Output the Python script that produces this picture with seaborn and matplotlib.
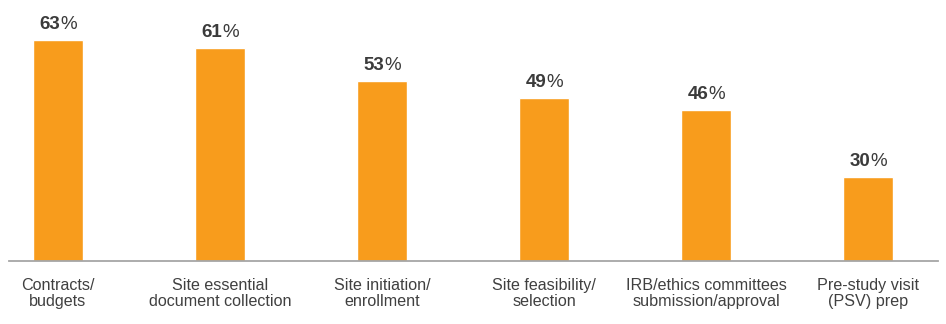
import matplotlib
matplotlib.use("Agg")
import matplotlib.pyplot as plt
import seaborn as sns
import pandas as pd
from matplotlib.offsetbox import TextArea, HPacker, AnnotationBbox

categories = [
    "Contracts/\nbudgets",
    "Site essential\ndocument collection",
    "Site initiation/\nenrollment",
    "Site feasibility/\nselection",
    "IRB/ethics committees\nsubmission/approval",
    "Pre-study visit\n(PSV) prep",
]
values = [63, 61, 53, 49, 46, 30]

sns.set_theme(style="white")
plt.rcParams["font.family"] = ["Liberation Sans", "DejaVu Sans"]

df = pd.DataFrame({"category": categories, "value": values})

fig = plt.figure(figsize=(9.46, 3.24), dpi=100)
ax = fig.add_axes([9 / 946, (324 - 261) / 324, (938 - 9) / 946, 261 / 324])

sns.barplot(data=df, x="category", y="value", color="#F89C1C", saturation=1,
            width=50 / 162, ax=ax)

ax.set_xlim(-49 / 162, 5 + 70 / 162)
ax.set_ylim(9.8, 72.5)

for i, v in enumerate(values):
    num = TextArea(f"{v}", textprops=dict(fontsize=13.5, fontweight="bold", color="#3b3b3b"))
    pct = TextArea("%", textprops=dict(fontsize=13.5, color="#3b3b3b"))
    box = HPacker(children=[num, pct], align="baseline", pad=0, sep=0)
    ab = AnnotationBbox(box, (i, v), xybox=(0, 5), xycoords="data",
                        boxcoords="offset points", box_alignment=(0.5, 0),
                        frameon=False, pad=0)
    ax.add_artist(ab)

ax.set_xlabel("")
ax.set_ylabel("")
ax.set_yticks([])
for s in ["top", "right", "left"]:
    ax.spines[s].set_visible(False)
ax.spines["bottom"].set_color("#A6A6A6")
ax.spines["bottom"].set_linewidth(1.3)
ax.tick_params(axis="x", length=0, pad=12, labelsize=11.6, labelcolor="#404040")
for lbl in ax.get_xticklabels():
    lbl.set_linespacing(1.1)

fig.savefig("out.png", dpi=100)
